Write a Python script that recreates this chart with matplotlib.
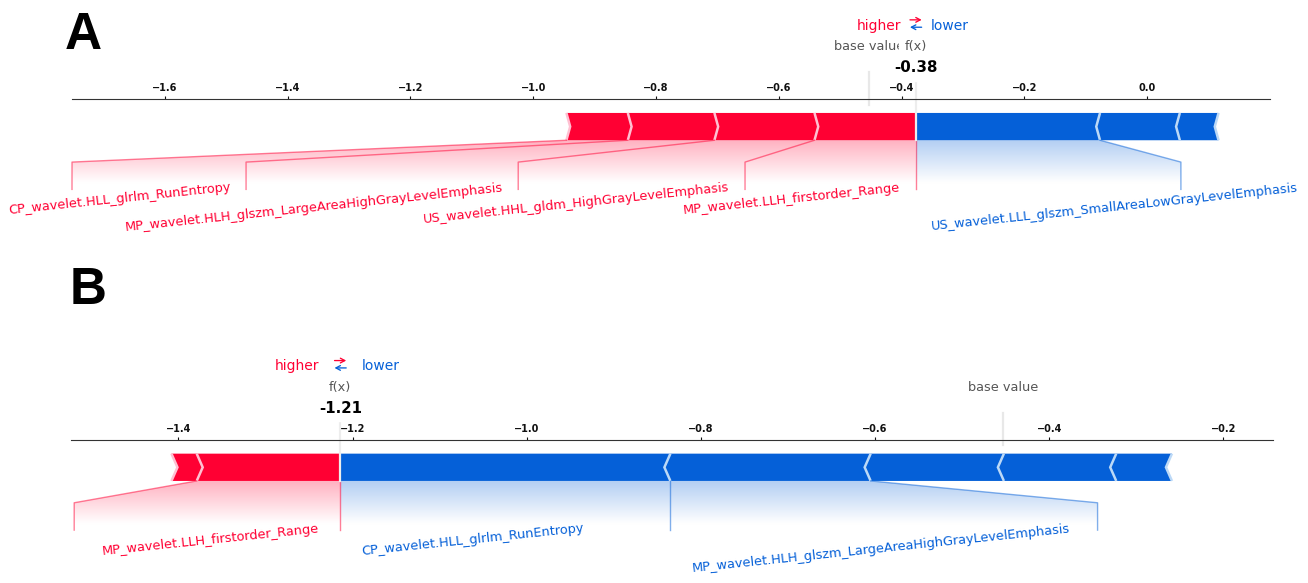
import numpy as np
import matplotlib
matplotlib.use("Agg")
import matplotlib.pyplot as plt
from matplotlib.path import Path
from matplotlib.patches import PathPatch, Polygon
from matplotlib.lines import Line2D
from matplotlib.colors import LinearSegmentedColormap, to_rgb
from matplotlib.font_manager import FontProperties
from matplotlib.transforms import offset_copy

# ---- panel A: one sample explained by SHAP values -------------------------
a_base_value = -0.453
a_features = [
    "MP_wavelet.LLH_firstorder_Range",
    "US_wavelet.HHL_gldm_HighGrayLevelEmphasis",
    "MP_wavelet.HLH_glszm_LargeAreaHighGrayLevelEmphasis",
    "CP_wavelet.HLL_glrlm_RunEntropy",
    "US_wavelet.LLL_glszm_SmallAreaLowGrayLevelEmphasis",
    None,
    None,
]
a_shap = [0.165, 0.163, 0.141, 0.100, -0.300, -0.130, -0.063]

# ---- panel B: a second sample ----------------------------------------------
b_base_value = -0.453
b_features = [
    "MP_wavelet.LLH_firstorder_Range",
    None,
    "CP_wavelet.HLL_glrlm_RunEntropy",
    "MP_wavelet.HLH_glszm_LargeAreaHighGrayLevelEmphasis",
    None,
    None,
    None,
]
b_shap = [0.165, 0.029, -0.379, -0.230, -0.153, -0.129, -0.064]

RED = "#FF0033"
BLUE = "#0560D8"
RED_LIGHT = "#FFC0D2"
BLUE_LIGHT = "#BCD9F7"

LABEL_GAP = 0.024        # gap between a boundary and its label (data units)
LABEL_SIZE = 9.3
TEXT_ROT = 6
WIDTH_BAR = 0.1


def draw_bars(ax, out_value, feats, kind, sep):
    rects, seps = [], []
    pre = out_value
    for i, (pos, _name) in enumerate(feats):
        if kind == "positive":
            left, right = pos, pre
            pre = left
            indent = abs(sep)
            sep_pos = left
            cols = (RED, RED_LIGHT)
        else:
            left, right = pre, pos
            pre = right
            indent = -abs(sep)
            sep_pos = right
            cols = (BLUE, BLUE_LIGHT)
        if i == 0:
            if kind == "positive":
                pts = [[left, 0], [right, 0], [right, WIDTH_BAR], [left, WIDTH_BAR],
                       [left + indent, WIDTH_BAR / 2]]
            else:
                pts = [[right, 0], [left, 0], [left, WIDTH_BAR], [right, WIDTH_BAR],
                       [right + indent, WIDTH_BAR / 2]]
        else:
            pts = [[left, 0], [right, 0], [right + indent * 0.9, WIDTH_BAR / 2],
                   [right, WIDTH_BAR], [left, WIDTH_BAR], [left + indent * 0.9, WIDTH_BAR / 2]]
        rects.append(Polygon(pts, closed=True, fill=True, facecolor=cols[0], linewidth=0))
        seps.append(Polygon([[sep_pos, 0], [sep_pos + indent, WIDTH_BAR / 2], [sep_pos, WIDTH_BAR]],
                            closed=False, fill=False, edgecolor=cols[1], lw=1.8))
    for r in rects:
        ax.add_patch(r)
    for s in seps:
        ax.add_patch(s)


def draw_labels(fig, ax, out_value, feats, kind, total_effect, min_perc=0.05):
    if kind == "positive":
        col, align, sign, shade = RED, "right", 1, RED
    else:
        col, align, sign, shade = BLUE, "left", -1, BLUE

    start_text = out_value
    pre_val = out_value
    box_end = out_value
    if kind == "positive":
        ax.add_line(Line2D([pre_val, pre_val], [0, -0.18], lw=1.0, alpha=0.5,
                           color=col, clip_on=False))

    for pos, name in feats:
        if name is None:
            break
        if abs(pos - pre_val) / total_effect < min_perc:
            break
        val = pos
        t = ax.text(start_text - sign * LABEL_GAP, -0.15, name, fontsize=LABEL_SIZE,
                    color=col, ha=align, va="top", rotation=TEXT_ROT,
                    rotation_mode="default", clip_on=False)
        t.set_bbox(dict(facecolor="none", edgecolor="none"))
        fig.canvas.draw()
        ext = t.get_bbox_patch().get_extents().transformed(ax.transData.inverted())
        edge = ext.get_points()[0][0] if kind == "positive" else ext.get_points()[1][0]
        if edge > ax.get_xlim()[1]:
            t.remove()
            break
        if sign * edge > sign * val:
            ax.add_line(Line2D([val, val], [0, -0.18], lw=1.0, alpha=0.5,
                               color=col, clip_on=False))
            start_text = val
            box_end = val
        else:
            box_end = edge - sign * LABEL_GAP
            ax.add_line(Line2D([val, box_end, box_end], [0, -0.08, -0.18], lw=1.0,
                               alpha=0.5, color=col, clip_on=False))
            start_text = box_end
        pre_val = pos

    # shaded band joining bar and labels
    path = Path([[out_value, 0], [pre_val, 0], [box_end, -0.08], [box_end, -0.2],
                 [out_value, -0.2], [out_value, 0]])
    patch = PathPatch(path, facecolor="none", edgecolor="none")
    ax.add_patch(patch)

    lo, hi = ax.get_xlim()
    if box_end < lo:
        ax.set_xlim(box_end, hi)
    if box_end > hi:
        ax.set_xlim(lo, box_end)

    cm = LinearSegmentedColormap.from_list("fade", [to_rgb(shade), (1, 1, 1)])
    _, z2 = np.meshgrid(np.linspace(0, 10), np.linspace(-10, 10))
    im = ax.imshow(z2, interpolation="quadric", cmap=cm, vmax=0.01, alpha=0.3,
                   origin="lower", extent=[out_value, box_end, 0, -0.31],
                   aspect="auto")
    im.set_clip_path(patch)


def small_arrow(ax, x, y, direction, color):
    """Short horizontal arrow centred on data x, pointing right (+1) or left (-1)."""
    head = offset_copy(ax.transData, fig=ax.figure, x=4.2 * direction, y=0, units="points")
    ax.annotate("", xy=(x, y), xycoords=head, xytext=(-8.4 * direction, 0),
                textcoords="offset points", annotation_clip=False,
                arrowprops=dict(arrowstyle="->,head_length=0.32,head_width=0.17",
                                color=color, lw=0.95, shrinkA=0, shrinkB=0))


def force_panel(fig, rect, base_value, names, values, pad):
    ax = fig.add_axes(rect)
    values = np.asarray(values, dtype=float)
    out_value = base_value + values.sum()

    pos_feats, neg_feats = [], []
    cur = out_value
    for i in np.argsort(-values, kind="stable"):
        if values[i] > 0:
            cur -= values[i]
            pos_feats.append((cur, names[i]))
    cur = out_value
    for i in np.argsort(values, kind="stable"):
        if values[i] < 0:
            cur -= values[i]
            neg_feats.append((cur, names[i]))
    total_effect = np.abs(values).sum()

    ax.set_ylim(-0.5, 0.15)
    xmin = min([p for p, _ in pos_feats] + [base_value]) - pad
    xmax = max([p for p, _ in neg_feats] + [base_value]) + pad
    ax.set_xlim(xmin, xmax)
    ax.tick_params(top=True, bottom=False, left=False, right=False, labelleft=False,
                   labeltop=True, labelbottom=False, labelsize=7.0, length=2.5,
                   width=0.8, pad=2, colors="#111111")
    for lab in ax.get_xticklabels():
        lab.set_fontweight("bold")
    ax.locator_params(axis="x", nbins=12)
    for key, sp in ax.spines.items():
        sp.set_visible(key == "top")
    ax.spines["top"].set_color("#333333")
    ax.set_yticks([])

    sep = (xmax - xmin) / 200
    draw_bars(ax, out_value, neg_feats, "negative", sep)
    draw_bars(ax, out_value, pos_feats, "positive", sep)

    draw_labels(fig, ax, out_value, neg_feats, "negative", total_effect)
    draw_labels(fig, ax, out_value, pos_feats, "positive", total_effect)

    for lab in ax.get_xticklabels():
        lab.set_fontweight("bold")
    ax.tick_params(axis="x", labelsize=7.0)

    # higher / lower legend
    ax.text(out_value - LABEL_GAP, 0.405, "higher", fontsize=10, color=RED, ha="right",
            clip_on=False)
    ax.text(out_value + LABEL_GAP, 0.405, "lower", fontsize=10, color=BLUE, ha="left",
            clip_on=False)
    small_arrow(ax, out_value, 0.441, +1, RED)
    small_arrow(ax, out_value, 0.414, -1, BLUE)

    # base value marker
    ax.add_line(Line2D([base_value, base_value], [0.13, 0.25], lw=1.6, color="#E8E8E8",
                       clip_on=False))
    t = ax.text(base_value, 0.33, "base value", fontsize=LABEL_SIZE, color="#555555",
                ha="center", clip_on=False)
    t.set_bbox(dict(facecolor="white", edgecolor="white"))

    # model output marker
    ax.add_line(Line2D([out_value, out_value], [0, 0.24], lw=1.6, color="#EDEDED",
                       clip_on=False))
    bold = FontProperties(weight="bold", size=10.8)
    t = ax.text(out_value, 0.25, "{0:.2f}".format(out_value), fontproperties=bold,
                ha="center", clip_on=False)
    t.set_bbox(dict(facecolor="white", edgecolor="white"))
    t = ax.text(out_value, 0.33, "f(x)", fontsize=LABEL_SIZE, color="#555555",
                ha="center", clip_on=False)
    t.set_bbox(dict(facecolor="white", edgecolor="white"))
    return ax


W, H = 1308, 583
fig = plt.figure(figsize=(W / 100, H / 100), dpi=100)

px_per_y = 273.0
ax_h = 0.65 * px_per_y


def rect_from_px(left, right, top):
    return [left / W, 1 - (top + ax_h) / H, (right - left) / W, ax_h / H]


force_panel(fig, rect_from_px(72, 1269.5, 99.3), a_base_value, a_features, a_shap, pad=0.083)
force_panel(fig, rect_from_px(70.7, 1272.7, 440.0), b_base_value, b_features, b_shap, pad=0.1157)

letter_font = ["Liberation Sans Narrow", "Liberation Sans", "DejaVu Sans"]
fig.text(65 / W, 1 - 49.3 / H, "A", fontsize=37, fontweight="bold", family=letter_font,
         ha="left", va="baseline")
fig.text(70 / W, 1 - 304 / H, "B", fontsize=37, fontweight="bold", family=letter_font,
         ha="left", va="baseline")

fig.savefig("out.png", dpi=100)
